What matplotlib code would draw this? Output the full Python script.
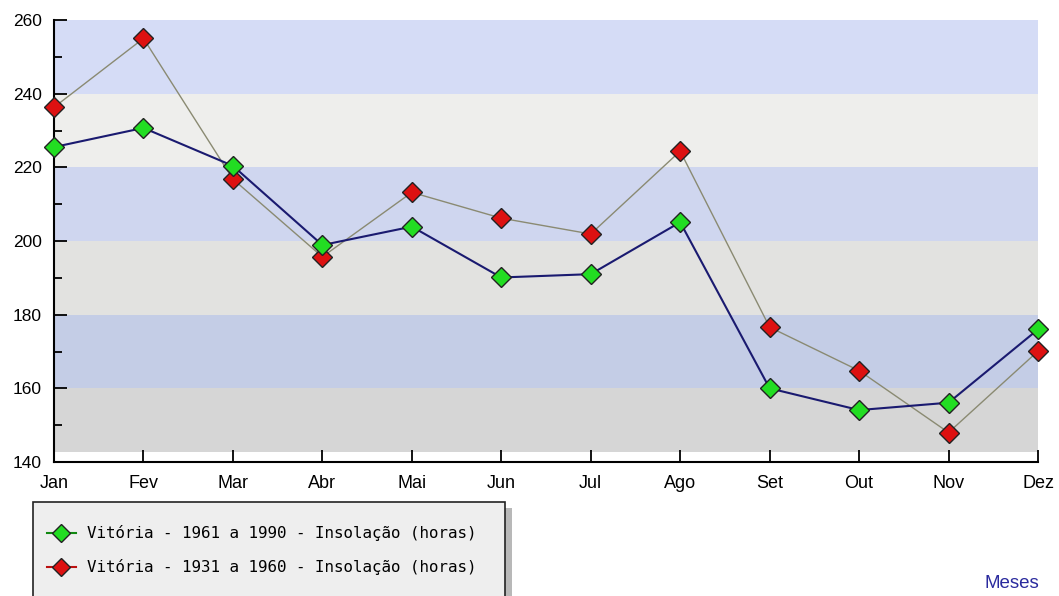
import matplotlib.pyplot as plt
from matplotlib.lines import Line2D
from matplotlib.patches import Rectangle
from matplotlib.ticker import MultipleLocator

# dados (leitura aproximada do gráfico)
meses = ["Jan", "Fev", "Mar", "Abr", "Mai", "Jun", "Jul", "Ago", "Set", "Out", "Nov", "Dez"]
insol_1961_1990 = [225.5, 230.7, 220.4, 198.9, 203.9, 190.1, 191.0, 205.1, 160.0, 154.1, 156.1, 176.0]
insol_1931_1960 = [236.3, 255.0, 216.8, 195.7, 213.2, 206.2, 201.9, 224.4, 176.6, 164.8, 148.0, 170.1]
label_1961 = "Vitória - 1961 a 1990 - Insolação (horas)"
label_1931 = "Vitória - 1931 a 1960 - Insolação (horas)"

# faixas de fundo (limites, cor)
faixas = [(142.7, 160, "#d6d6d6"), (160, 180, "#c4cde6"), (180, 200, "#e2e2e0"),
          (200, 220, "#cfd6ef"), (220, 240, "#eeeeec"), (240, 260, "#d5dcf6")]

W, H = 1059, 596
fig = plt.figure(figsize=(W / 100, H / 100), dpi=100)
fig.patch.set_facecolor("white")
ax = fig.add_axes([54 / W, (H - 462) / H, (1038 - 54) / W, (462 - 20) / H])
ax.set_facecolor("white")

x = list(range(len(meses)))
for y0, y1, cor in faixas:
    ax.fill_between([0, len(meses) - 1], y0, y1, color=cor, lw=0, zorder=0)

ax.plot(x, insol_1931_1960, color="#8a8a72", lw=1.0, marker="D", ms=10,
        mfc="#dd1111", mec="#222222", mew=1.0, clip_on=False, zorder=3)
ax.plot(x, insol_1961_1990, color="#1a1a70", lw=1.5, marker="D", ms=10,
        mfc="#22dd22", mec="#222222", mew=1.0, clip_on=False, zorder=4)

ax.set_xlim(0, len(meses) - 1)
ax.set_ylim(140, 260)
ax.set_xticks(x)
ax.set_xticklabels(meses)
ax.yaxis.set_major_locator(MultipleLocator(20))
ax.yaxis.set_minor_locator(MultipleLocator(10))
for s in ["top", "right"]:
    ax.spines[s].set_visible(False)
ax.spines["left"].set_linewidth(1.5)
ax.spines["bottom"].set_linewidth(1.5)
ax.tick_params(axis="x", direction="in", length=9, width=1.3, pad=9,
               labelsize=13, labelfontfamily="Liberation Sans")
ax.tick_params(axis="y", which="major", direction="in", length=9, width=1.3, pad=9,
               labelsize=12.5, labelfontfamily="Liberation Sans")
ax.tick_params(axis="y", which="minor", direction="in", length=6, width=1.3)

# caixa da legenda com sombra
fig.patches.append(Rectangle((40 / W, -0.1), 472 / W, (H - 508) / H + 0.1,
                             transform=fig.transFigure, facecolor="#b8b8b8",
                             edgecolor="none", zorder=1))
fig.patches.append(Rectangle((33 / W, -0.1), 472 / W, (H - 502) / H + 0.1,
                             transform=fig.transFigure, facecolor="#eeeeee",
                             edgecolor="#222222", lw=1.2, zorder=2))

handles = [
    Line2D([], [], color="#118811", lw=1.5, marker="D", ms=9, mfc="#22dd22", mec="#222222"),
    Line2D([], [], color="#bb1111", lw=1.5, marker="D", ms=9, mfc="#dd1111", mec="#222222"),
]
leg = fig.legend(handles, [label_1961, label_1931], loc="upper left",
                 bbox_to_anchor=(36 / W, (H - 514) / H), frameon=False,
                 prop={"family": "DejaVu Sans Mono", "size": 11.4},
                 handlelength=1.8, handletextpad=0.7, labelspacing=1.15,
                 borderpad=0.2)
leg.set_zorder(5)

fig.text(1012 / W, (H - 583) / H, "Meses", color="#2b2b9e", fontsize=13.5,
         family="Liberation Sans", ha="center", va="center")

fig.savefig("out.png", dpi=100)
